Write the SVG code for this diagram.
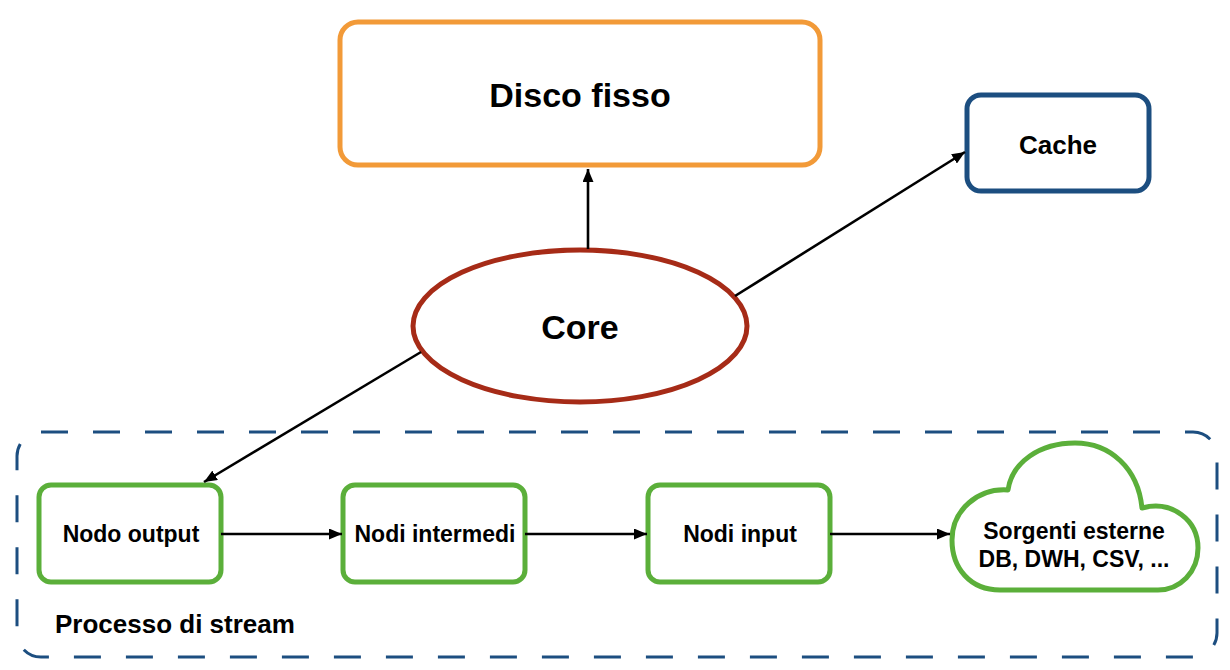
<svg xmlns="http://www.w3.org/2000/svg" width="1230" height="670" viewBox="0 0 1230 670">
<defs>
<marker id="ah" viewBox="0 0 13 11" refX="13" refY="5.5" markerWidth="13" markerHeight="11" markerUnits="userSpaceOnUse" orient="auto">
<path d="M0,0 L13,5.5 L0,11 Z" fill="#000"/>
</marker>
<style>
text{font-family:"Liberation Sans",Arial,Helvetica,sans-serif;font-weight:bold;fill:#000;text-anchor:middle}
.green{fill:#fff;stroke:#5BAF3A;stroke-width:5}
.conn{stroke:#000;stroke-width:2.6;fill:none;marker-end:url(#ah)}
</style>
</defs>
<rect width="1230" height="670" fill="#fff"/>
<g id="stream-group">
<rect x="17" y="432" width="1200" height="225" rx="24" fill="none" stroke="#1C4E80" stroke-width="3" stroke-dasharray="27 25"/>
<text x="55" y="633" font-size="26" style="text-anchor:start">Processo di stream</text>
</g>
<g id="disco">
<rect x="340" y="22" width="480" height="143" rx="18" fill="#fff" stroke="#F29A38" stroke-width="5"/>
<text x="580" y="107" font-size="34">Disco fisso</text>
</g>
<g id="cache">
<rect x="967" y="95" width="182" height="96" rx="14" fill="#fff" stroke="#1C4E80" stroke-width="5"/>
<text x="1058" y="154" font-size="26">Cache</text>
</g>
<g id="core">
<ellipse cx="580" cy="326" rx="167" ry="76" fill="#fff" stroke="#A62B17" stroke-width="5"/>
<text x="580" y="339" font-size="34">Core</text>
</g>
<g id="nodo-output">
<rect x="39" y="485" width="182" height="97" rx="12" class="green"/>
<text x="131" y="542" font-size="23">Nodo output</text>
</g>
<g id="nodi-intermedi">
<rect x="343" y="485" width="182" height="97" rx="12" class="green"/>
<text x="435" y="542" font-size="23">Nodi intermedi</text>
</g>
<g id="nodi-input">
<rect x="648" y="485" width="182" height="97" rx="12" class="green"/>
<text x="740" y="542" font-size="23">Nodi input</text>
</g>
<g id="sorgenti">
<path d="M1000,590 C970,590 952,568 952,540 C952,510 978,488 1008,490 C1012,462 1040,443 1075,443 C1110,443 1138,468 1142,508 C1172,500 1198,520 1198,548 C1198,572 1180,590 1158,590 Z" fill="#fff" stroke="#5BAF3A" stroke-width="5" stroke-linejoin="round"/>
<text x="1074" y="539" font-size="23">Sorgenti esterne</text>
<text x="1074" y="567" font-size="23">DB, DWH, CSV, ...</text>
</g>
<g id="connectors">
<line x1="588" y1="249" x2="588" y2="169" class="conn"/>
<line x1="735" y1="296" x2="965" y2="152" class="conn"/>
<line x1="421" y1="352" x2="204" y2="482" class="conn"/>
<line x1="221" y1="534" x2="342" y2="534" class="conn"/>
<line x1="525" y1="534" x2="647" y2="534" class="conn"/>
<line x1="830" y1="534" x2="950" y2="534" class="conn"/>
</g>
</svg>
